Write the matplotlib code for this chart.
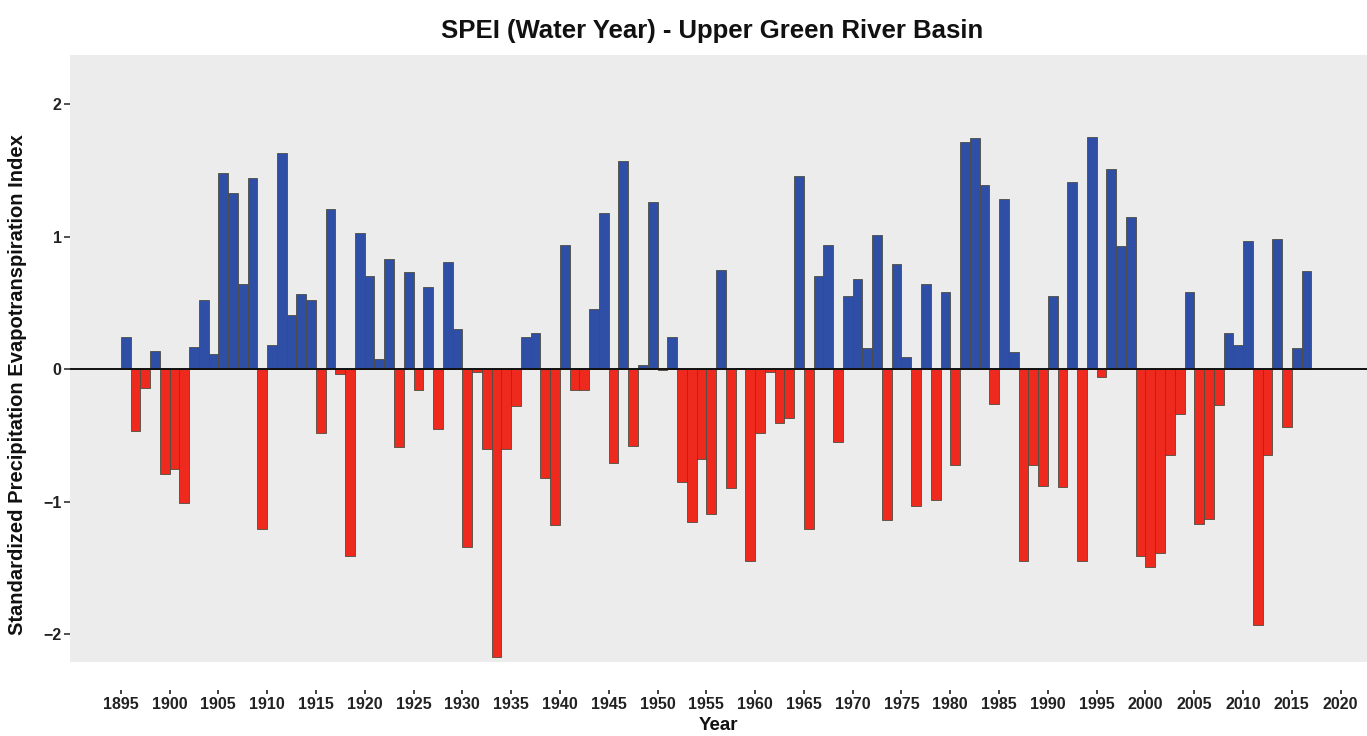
import matplotlib
matplotlib.use("Agg")
import matplotlib.pyplot as plt
import numpy as np

years = list(range(1896, 2018))
spei = [
    0.24, -0.47, -0.14, 0.135, -0.79, -0.75, -1.01, 0.17, 0.52, 0.115,   # 1896-1905
    1.48, 1.33, 0.64, 1.44, -1.21, 0.18, 1.63, 0.41, 0.57, 0.52,          # 1906-1915
    -0.48, 1.21, -0.035, -1.41, 1.03, 0.70, 0.08, 0.83, -0.59, 0.73,      # 1916-1925
    -0.16, 0.62, -0.45, 0.81, 0.30, -1.34, -0.02, -0.60, -2.17, -0.60,    # 1926-1935
    -0.28, 0.24, 0.27, -0.82, -1.18, 0.94, -0.16, -0.16, 0.45, 1.18,      # 1936-1945
    -0.71, 1.57, -0.58, 0.03, 1.26, -0.01, 0.24, -0.85, -1.15, -0.68,     # 1946-1955
    -1.09, 0.75, -0.90, 0.01, -1.45, -0.48, -0.02, -0.41, -0.37, 1.46,    # 1956-1965
    -1.21, 0.70, 0.94, -0.55, 0.55, 0.68, 0.16, 1.01, -1.14, 0.79,        # 1966-1975
    0.09, -1.03, 0.64, -0.99, 0.58, -0.72, 1.71, 1.74, 1.39, -0.26,       # 1976-1985
    1.28, 0.13, -1.45, -0.72, -0.88, 0.55, -0.89, 1.41, -1.45, 1.75,      # 1986-1995
    -0.06, 1.51, 0.93, 1.15, -1.41, -1.49, -1.39, -0.65, -0.34, 0.58,     # 1996-2005
    -1.17, -1.13, -0.27, 0.27, 0.18, 0.97, -1.93, -0.65, 0.98, -0.44,     # 2006-2015
    0.16, 0.74,                                                           # 2016-2017
]
x_ticks = list(range(1895, 2021, 5))
y_ticks = [-2, -1, 0, 1, 2]
y_tick_labels = ["\u22122", "\u22121", "0", "1", "2"]

title = "SPEI (Water Year) - Upper Green River Basin"
xlabel = "Year"
ylabel = "Standardized Precipitation Evapotranspiration Index"

BLUE = "#2f4ea6"
RED = "#ee2a1e"
FONT = ["Liberation Sans", "DejaVu Sans"]

W, H = 1367, 736
fig = plt.figure(figsize=(W / 100, H / 100), dpi=100, facecolor="white")
ax = fig.add_axes([70 / W, 1 - 662 / H, 1 - 70 / W, (662 - 55) / H])
ax.set_facecolor("#ececec")

vals = np.array(spei)
colors = [BLUE if v >= 0 else RED for v in vals]
ax.bar(years, vals, width=-1.0, align="edge", color=colors,
       edgecolor="#4d4d40", linewidth=0.6, zorder=2)
ax.axhline(0, color="#111111", linewidth=1.4, zorder=3)

ax.set_xlim(1889.8, 2022.7)
ax.set_ylim(-2.21, 2.37)

for s in ax.spines.values():
    s.set_visible(False)
ax.spines["bottom"].set_position(("outward", 20))

ax.set_xticks(x_ticks)
ax.set_xticklabels([str(t) for t in x_ticks], fontfamily=FONT,
                   fontweight="bold", fontsize=11.5, color="#222222")
ax.set_yticks(y_ticks)
ax.set_yticklabels(y_tick_labels, fontfamily=FONT, fontweight="bold",
                   fontsize=11.5, color="#222222")
ax.tick_params(axis="x", length=3, width=1.3, color="#333333", pad=2)
ax.tick_params(axis="y", length=4, width=1.2, color="#333333", pad=2,
               direction="out")

fig.text(718 / W, 1 - 726 / H, xlabel, ha="center", va="center",
         fontfamily=FONT, fontweight="bold", fontsize=13.5, color="#111111")
fig.text(18 / W, 1 - 385 / H, ylabel, rotation=90, ha="center", va="center",
         fontfamily=FONT, fontweight="bold", fontsize=14.5, color="#111111")
fig.text(712 / W, 1 - 31 / H, title, ha="center", va="center",
         fontfamily=FONT, fontweight="bold", fontsize=18.5, color="#111111")

fig.savefig("out.png", dpi=100, facecolor="white")
